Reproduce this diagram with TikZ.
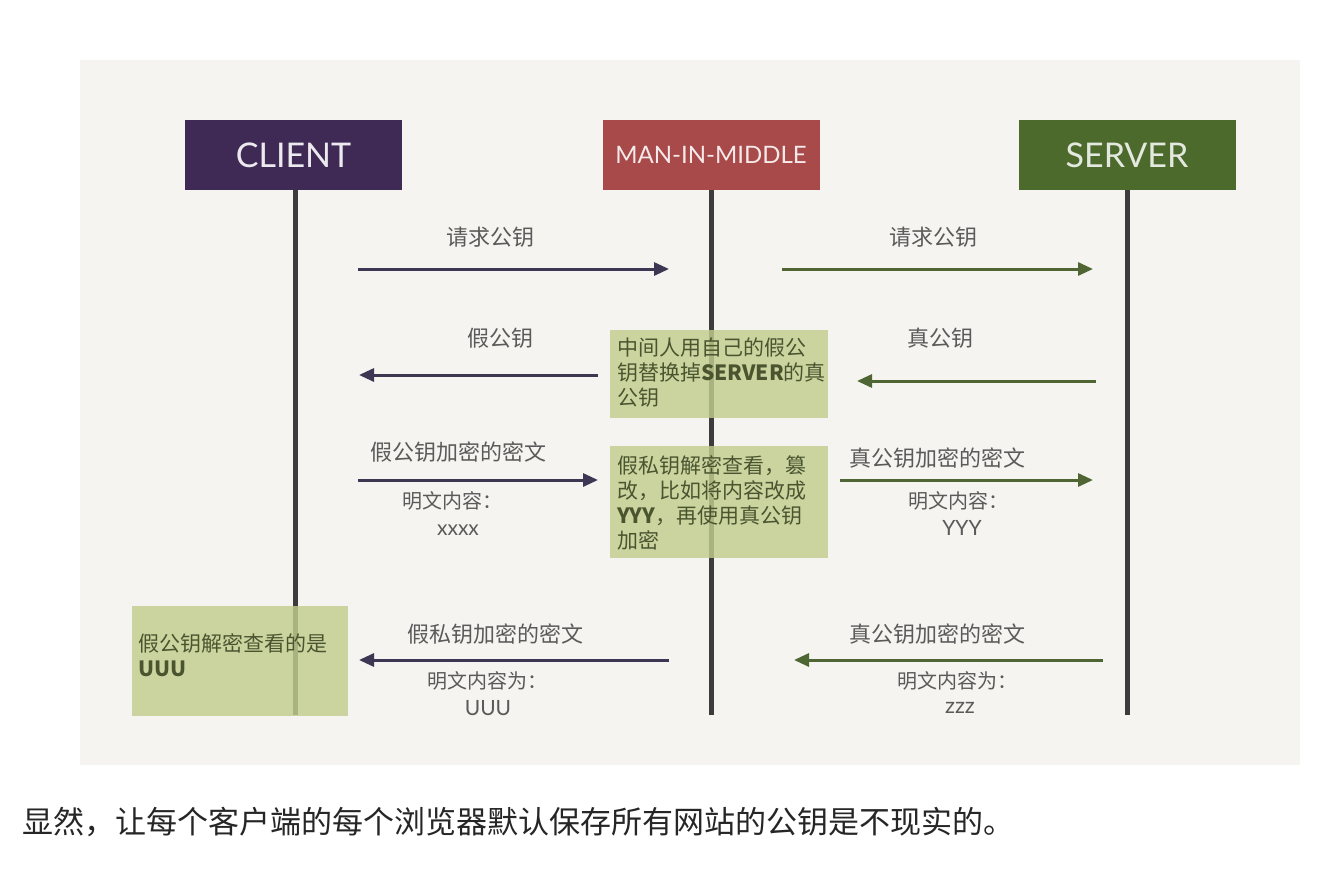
\documentclass[tikz,border=0pt]{standalone}
\usepackage{fontspec}
\setmainfont{Noto Sans CJK SC}
\newfontfamily\headfont{Lato}
\usetikzlibrary{arrows.meta, positioning}

\definecolor{panelc}{HTML}{F5F4F0}
\definecolor{clientc}{HTML}{3E2A55}
\definecolor{mitmc}{HTML}{A84A4A}
\definecolor{serverc}{HTML}{4D6A2D}
\definecolor{lifec}{HTML}{3C3C3C}
\definecolor{notec}{HTML}{C2CE8E}
\definecolor{notetext}{HTML}{4A5530}
\definecolor{labelc}{HTML}{5A5A5A}
\definecolor{purplec}{HTML}{3D3753}
\definecolor{greenc}{HTML}{4F6634}

\begin{document}
\begin{tikzpicture}[
    x=1pt, y=-1pt,
    head/.style   = {minimum width=217pt, minimum height=70pt, inner sep=0pt},
    life/.style   = {draw=lifec, line width=5pt},
    msg/.style    = {line width=3pt, -{Triangle[length=15pt,width=13pt]}},
    lbl/.style    = {text=labelc, font=\fontsize{22}{26}\selectfont, inner sep=0pt},
    sub/.style    = {text=labelc, font=\fontsize{20}{24}\selectfont, inner sep=0pt},
    note/.style   = {text=notetext, anchor=north west, align=left, inner sep=0pt,
                     font=\fontsize{21}{25}\selectfont},
    notebg/.style = {fill=notec, opacity=0.82}
  ]
  % background and panel
  \fill[white] (0,0) rectangle (1336,870);
  \fill[panelc] (80,60) rectangle (1300,765);

  % Headers
  \node[head, fill=clientc, text=white!90!clientc,
        font=\headfont\fontsize{34}{34}\selectfont] (client) at (293.5,155) {CLIENT};
  \node[head, fill=mitmc, text=white!88!mitmc,
        font=\headfont\fontsize{24}{24}\selectfont] (mitm) at (711,155) {MAN-IN-MIDDLE};
  \node[head, fill=serverc, text=white!85!serverc,
        font=\headfont\fontsize{34}{34}\selectfont] (server) at (1127,155) {SERVER};

  % Lifelines
  \coordinate (bottom) at (0,715);
  \draw[life] (client.south -| 295,0) -- (295,715);
  \draw[life] (mitm) -- (mitm |- bottom);
  \draw[life] (server) -- (server |- bottom);

  % Step 1: request public key
  \coordinate (a1s) at (358,269);  \coordinate (a1e) at (669,269);
  \coordinate (b1s) at (782,269);  \coordinate (b1e) at (1093,269);
  \draw[msg, purplec] (a1s) -- (a1e);
  \draw[msg, greenc] (b1s) -- (b1e);
  \node[lbl] (req1) at (490,237) {请求公钥};
  \node[lbl] (req2) at (933,237) {请求公钥};

  % Step 2: public key returned
  \coordinate (a2s) at (598,375);  \coordinate (a2e) at (359,375);
  \coordinate (b2s) at (1096,381); \coordinate (b2e) at (857,381);
  \draw[msg, purplec] (a2s) -- (a2e);
  \draw[msg, greenc] (b2s) -- (b2e);
  \node[lbl] (fake) at (500,338) {假公钥};
  \node[lbl] (real) at (940,338) {真公钥};

  % Step 3: encrypted message
  \coordinate (a3s) at (358,480);  \coordinate (a3e) at (598,480);
  \coordinate (b3s) at (840,480);  \coordinate (b3e) at (1093,480);
  \draw[msg, purplec] (a3s) -- (a3e);
  \draw[msg, greenc] (b3s) -- (b3e);
  \node[lbl] (c3a) at (458,452) {假公钥加密的密文};
  \node[sub] (p3a) at (452,501) {明文内容：};
  \node[sub, font=\headfont\fontsize{21}{21}\selectfont] (x3a) at (458,530) {xxxx};
  \node[lbl] (c3b) at (937,458) {真公钥加密的密文};
  \node[sub] (p3b) at (958,501) {明文内容：};
  \node[sub, font=\headfont\fontsize{21}{21}\selectfont] (x3b) at (962,528) {YYY};

  % Step 4: reply
  \coordinate (a4s) at (669,660);  \coordinate (a4e) at (359,660);
  \coordinate (b4s) at (1103,660); \coordinate (b4e) at (794,660);
  \draw[msg, purplec] (a4s) -- (a4e);
  \draw[msg, greenc] (b4s) -- (b4e);
  \node[lbl] (c4a) at (495,634) {假私钥加密的密文};
  \node[sub] (p4a) at (487,681) {明文内容为：};
  \node[sub, font=\headfont\fontsize{21}{21}\selectfont] (x4a) at (488,708) {UUU};
  \node[lbl] (c4b) at (937,634) {真公钥加密的密文};
  \node[sub] (p4b) at (957,681) {明文内容为：};
  \node[sub, font=\headfont\fontsize{22}{22}\selectfont] (x4b) at (960,708) {zzz};

  % Notes
  \fill[notebg] (610,330) rectangle (828,418);
  \node[note] (n1) at (617,338) {中间人用自己的假公\\钥替换掉\textbf{SERVER}的真\\公钥};
  \fill[notebg] (610,446) rectangle (828,558);
  \node[note] (n2) at (617,455) {假私钥解密查看，篡\\改，比如将内容改成\\\textbf{YYY}，再使用真公钥\\加密};
  \fill[notebg] (132,606) rectangle (348,716);
  \node[note] (n3) at (138,633) {假公钥解密查看的是\\\textbf{UUU}};

  % Caption
  \node[anchor=west, inner sep=0pt, text=black!85,
        font=\fontsize{31}{31}\selectfont] (cap) at (22,822)
        {显然，让每个客户端的每个浏览器默认保存所有网站的公钥是不现实的。};
\end{tikzpicture}
\end{document}
